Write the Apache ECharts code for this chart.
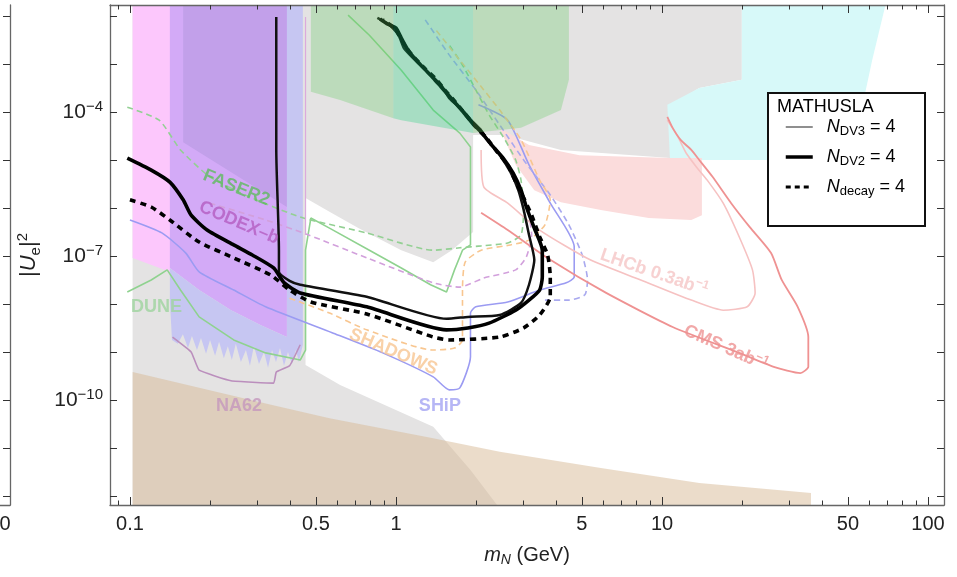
<!DOCTYPE html>
<html><head><meta charset="utf-8">
<script src="https://cdn.jsdelivr.net/npm/echarts@6/dist/echarts.min.js"></script>
<style>html,body{margin:0;padding:0;background:#fff}#c{width:957px;height:577px}</style>
</head><body><div id="c"></div>
<script>
// All points are [log10(m_N / GeV), log10 |U_e|^2].
const xMajorTicks = [0.1, 0.5, 1, 5, 10, 50, 100];
const xMinorTicks = [0.09, 0.2, 0.3, 0.4, 0.6, 0.7, 0.8, 0.9, 2, 3, 4, 6, 7, 8, 9, 20, 30, 40, 60, 70, 80, 90];
const yTickExponents = [-12, -11, -10, -9, -8, -7, -6, -5, -4, -3, -2];
const yLabelExponents = [-10, -7, -4];

// shaded (excluded / projected) regions
const grayRegion = [[-0.99,-1.77],[1.30,-1.77],[1.30,-3.33],[1.14,-3.50],[1.04,-3.85],[1.03,-4.96],[0.62,-4.79],[0.41,-4.48],[0.29,-4.48],[0.29,-6.50],[0.21,-6.88],[0.14,-7.13],[0.02,-6.88],[-0.14,-6.42],[-0.25,-6.08],[-0.34,-5.79],[-0.34,-9.27],[-0.21,-9.69],[0.14,-10.56],[0.28,-11.46],[0.38,-12.19],[-0.99,-12.19]];
const tanRegion = [[-0.99,-9.42],[-0.47,-10.10],[-0.25,-10.38],[0.13,-10.79],[0.39,-11.08],[0.77,-11.42],[1.14,-11.73],[1.56,-11.94],[1.56,-12.19],[-0.99,-12.19]];
const magentaRegion = [[-0.99,-1.77],[-0.40,-1.77],[-0.40,-7.92],[-0.85,-7.33],[-0.99,-7.04]];
const purpleRegion = [[-0.85,-1.77],[-0.41,-1.77],[-0.41,-8.69],[-0.51,-8.44],[-0.62,-8.13],[-0.74,-7.71],[-0.85,-7.25]];
const darkPurpleRegion = [[-0.80,-1.77],[-0.41,-1.77],[-0.41,-5.98],[-0.80,-4.63]];
const lavenderRegion = [[-0.41,-1.77],[-0.35,-1.77],[-0.35,-8.85],[-0.365,-9.21],[-0.376,-8.96],[-0.391,-9.25],[-0.406,-9.00],[-0.421,-9.29],[-0.436,-8.92],[-0.451,-9.21],[-0.466,-8.96],[-0.481,-9.33],[-0.496,-9.00],[-0.515,-9.25],[-0.534,-8.88],[-0.549,-9.29],[-0.564,-8.96],[-0.583,-9.21],[-0.602,-8.83],[-0.617,-9.17],[-0.632,-8.88],[-0.647,-9.13],[-0.665,-8.79],[-0.68,-9.08],[-0.699,-8.75],[-0.714,-9.04],[-0.733,-8.71],[-0.748,-8.96],[-0.767,-8.67],[-0.782,-8.92],[-0.801,-8.63],[-0.82,-8.83],[-0.842,-8.75],[-0.85,-7.92],[-0.85,-7.25],[-0.74,-7.71],[-0.62,-8.13],[-0.51,-8.44],[-0.41,-8.69]];
const greenLeftRegion = [[-0.32,-1.77],[-0.01,-1.77],[-0.01,-4.13],[-0.21,-3.75],[-0.32,-3.58]];
const mintRegion = [[-0.01,-1.77],[0.29,-1.77],[0.29,-4.44],[0.02,-4.17],[-0.01,-4.13]];
const greenRightRegion = [[0.29,-1.77],[0.65,-1.77],[0.65,-3.33],[0.62,-3.96],[0.47,-4.33],[0.29,-4.44]];
const cyanRegion = [[1.30,-1.77],[1.84,-1.77],[1.79,-2.92],[1.75,-3.96],[1.74,-5.00],[1.03,-5.00],[1.02,-3.85],[1.14,-3.50],[1.30,-3.33]];
const pinkRegion = [[0.39,-4.33],[0.50,-4.69],[0.69,-4.90],[1.03,-4.96],[1.15,-4.96],[1.15,-6.15],[1.11,-6.25],[0.95,-6.21],[0.77,-6.04],[0.62,-5.88],[0.52,-5.63],[0.45,-5.10]];

// sensitivity contours of other experiments
const duneLine = [[-1.01,-7.75],[-0.92,-7.50],[-0.86,-7.29],[-0.81,-7.71],[-0.74,-8.27],[-0.61,-8.75],[-0.49,-9.02],[-0.36,-9.17],[-0.34,-8.96],[-0.34,-6.88],[-0.32,-6.21],[-0.25,-6.42],[-0.10,-6.88],[0.02,-7.25],[0.13,-7.60],[0.19,-7.75],[0.22,-7.29],[0.25,-6.88],[0.28,-6.77],[0.28,-4.73],[0.24,-4.44],[0.14,-3.96],[0.02,-3.13],[-0.10,-2.40],[-0.18,-1.98]];
const faser2Line = [[-1.01,-3.90],[-0.89,-4.17],[-0.81,-4.79],[-0.70,-5.35],[-0.55,-5.77],[-0.36,-6.19],[-0.11,-6.52],[0.14,-6.88],[0.24,-6.83],[0.32,-6.79],[0.42,-6.73],[0.47,-6.56],[0.48,-6.04],[0.47,-5.42],[0.45,-5.00],[0.41,-4.58],[0.35,-4.06],[0.30,-3.54],[0.25,-3.02],[0.20,-2.60]];
const codexbLine = [[-0.70,-5.90],[-0.49,-6.25],[-0.33,-6.56],[-0.11,-7.04],[0.14,-7.56],[0.24,-7.65],[0.33,-7.46],[0.45,-7.29],[0.49,-7.02],[0.51,-6.56],[0.50,-6.15]];
const codexbEdge = [[-0.34,-2.02],[-0.34,-6.56]];
const shipLine = [[-1.00,-6.25],[-0.88,-6.52],[-0.79,-6.94],[-0.74,-7.33],[-0.61,-7.71],[-0.49,-8.06],[-0.24,-8.60],[-0.05,-9.02],[0.14,-9.52],[0.20,-9.79],[0.24,-9.75],[0.28,-9.10],[0.28,-8.19],[0.30,-8.06],[0.42,-7.96],[0.54,-7.71],[0.64,-7.56],[0.67,-7.44],[0.67,-6.81],[0.58,-5.90],[0.50,-5.10],[0.42,-4.17],[0.31,-3.85]];
const shipDashedLine = [[0.11,-2.08],[0.20,-2.81],[0.30,-3.54],[0.39,-4.27],[0.48,-5.00],[0.58,-5.73],[0.65,-6.35],[0.70,-6.98],[0.72,-7.50],[0.71,-7.81],[0.65,-7.92],[0.56,-7.92]];
const shadowsLine = [[-0.40,-7.88],[-0.25,-8.19],[-0.11,-8.54],[0.14,-8.96],[0.22,-8.92],[0.25,-8.75],[0.25,-7.71],[0.26,-7.13],[0.32,-6.88],[0.43,-6.77],[0.50,-6.67],[0.56,-6.35],[0.58,-5.83],[0.54,-5.42],[0.47,-4.58],[0.39,-3.96],[0.33,-3.54],[0.24,-2.92],[0.15,-2.29]];
const lhcbLine = [[0.32,-4.79],[0.33,-5.56],[0.42,-5.90],[0.54,-6.46],[0.73,-7.08],[0.92,-7.50],[1.11,-7.92],[1.23,-8.13],[1.32,-8.06],[1.35,-7.77],[1.34,-7.29],[1.29,-6.60],[1.23,-5.90],[1.17,-5.42],[1.13,-5.15],[1.09,-4.85],[1.06,-4.52],[1.02,-4.17]];
const cmsLine = [[0.32,-6.10],[0.42,-6.46],[0.58,-7.08],[0.79,-7.77],[1.04,-8.48],[1.29,-9.02],[1.42,-9.31],[1.52,-9.44],[1.55,-9.31],[1.55,-8.69],[1.51,-8.06],[1.45,-7.50],[1.41,-6.94],[1.33,-6.40],[1.26,-5.90],[1.19,-5.35],[1.14,-5.00],[1.11,-4.79],[1.07,-4.58],[1.04,-4.33],[1.02,-4.10]];
const na62Line = [[-0.84,-8.69],[-0.77,-9.00],[-0.74,-9.38],[-0.62,-9.60],[-0.46,-9.65],[-0.45,-9.42],[-0.40,-9.29],[-0.36,-8.85]];

// MATHUSLA curves
const mathuslaDV3 = [[-0.45,-2.02],[-0.45,-4.79],[-0.44,-6.88],[-0.44,-7.33],[-0.40,-7.52],[-0.36,-7.60],[-0.11,-7.85],[0.19,-8.31],[0.27,-8.27],[0.39,-8.23],[0.47,-7.98],[0.50,-7.60],[0.52,-7.08],[0.50,-6.56],[0.48,-6.04],[0.46,-5.63],[0.43,-5.25],[0.39,-4.90],[0.35,-4.63],[0.32,-4.38],[0.29,-4.21],[0.25,-3.96],[0.20,-3.71],[0.17,-3.44],[0.13,-3.23],[0.09,-3.02],[0.03,-2.67],[0.01,-2.40],[-0.02,-2.21],[-0.04,-2.13],[-0.07,-2.04]];
const mathuslaDV2 = [[-1.01,-4.96],[-0.92,-5.21],[-0.85,-5.46],[-0.80,-5.83],[-0.77,-6.15],[-0.71,-6.46],[-0.61,-6.77],[-0.54,-6.98],[-0.46,-7.25],[-0.42,-7.56],[-0.36,-7.77],[-0.11,-8.06],[0.19,-8.54],[0.27,-8.50],[0.35,-8.40],[0.45,-8.13],[0.50,-7.92],[0.54,-7.71],[0.55,-7.44],[0.55,-6.88],[0.52,-6.42],[0.49,-5.98],[0.47,-5.63],[0.44,-5.27],[0.40,-4.94],[0.36,-4.69],[0.32,-4.42],[0.29,-4.25],[0.25,-3.98],[0.21,-3.73],[0.17,-3.48],[0.14,-3.29],[0.10,-3.06],[0.05,-2.75],[0.02,-2.46],[0.00,-2.25],[-0.03,-2.17],[-0.06,-2.06]];
const mathuslaDecay = [[-1.00,-5.83],[-0.92,-5.98],[-0.85,-6.25],[-0.74,-6.71],[-0.61,-7.04],[-0.47,-7.40],[-0.40,-7.71],[-0.32,-7.96],[-0.11,-8.21],[0.14,-8.69],[0.20,-8.75],[0.39,-8.69],[0.48,-8.50],[0.54,-8.23],[0.58,-7.85],[0.58,-7.44],[0.57,-6.98],[0.54,-6.60],[0.51,-6.15],[0.48,-5.79],[0.45,-5.46],[0.42,-5.10],[0.38,-4.83],[0.34,-4.54],[0.30,-4.31],[0.26,-4.04],[0.22,-3.77],[0.18,-3.52],[0.15,-3.31],[0.11,-3.10],[0.06,-2.81],[0.02,-2.50],[0.00,-2.29],[-0.02,-2.19],[-0.05,-2.08]];

// experiment labels: text and anchor (centre) in data units
const labelTexts = ['FASER2', 'CODEX–b', 'DUNE', 'NA62', 'SHADOWS', 'SHiP', '{t|LHCb 0.3ab}{s|−1}', '{t|CMS 3ab}{s|−1}'];
const labelAnchors = [[-0.60,-5.58],[-0.59,-6.31],[-0.90,-8.06],[-0.59,-10.13],[-0.01,-9.00],[0.165,-10.13],[0.97,-7.35],[1.24,-8.92]];
const labelColors = ['#5fba5f', '#b45cc0', '#9dd39d', '#c497bd', '#f7c592', '#a4a4f3', '#f5c6c6', '#ee9292'];
const labelAngles = [-22, -23, 0, 0, -23, 0, -19, -24];

const legendNames = ['DV3', 'DV2', 'decay'];

const FONT = '"Liberation Sans", Arial, Helvetica, sans-serif';
const XMIN = -1.075, XMAX = 2.06, YMIN = -12.19, YMAX = -1.77;
const lg = a => a.map(v => Math.log10(v));

function polySeries(data, fill, z) {
  return {
    type: 'custom', coordinateSystem: 'cartesian2d', xAxisIndex: 0, yAxisIndex: 0,
    data: data, z: z, silent: true, animation: false, encode: { x: 0, y: 1 },
    renderItem: function (params, api) {
      if (params.dataIndex !== 0) return null;
      return { type: 'polygon', shape: { points: data.map(p => api.coord(p)) }, style: { fill: fill, stroke: null } };
    }
  };
}
function lineSeries(name, data, color, width, type, z, smooth) {
  return {
    type: 'line', name: name, data: data, xAxisIndex: 0, yAxisIndex: 0,
    showSymbol: false, symbol: 'none', smooth: smooth || 0, z: z, silent: true, animation: false,
    lineStyle: { color: color, width: width, type: type || 'solid' }, itemStyle: { color: color }
  };
}

const series = [
  polySeries(grayRegion, '#e4e3e3', 1),
  polySeries(tanRegion, 'rgba(215,185,150,0.5)', 2),
  polySeries(magentaRegion, '#fcc7fc', 3),
  polySeries(purpleRegion, '#d3aaf7', 3),
  polySeries(darkPurpleRegion, '#c2a0ea', 3),
  polySeries(lavenderRegion, '#c6c6f2', 3),
  polySeries(cyanRegion, '#d7f9f9', 3),
  polySeries(pinkRegion, '#fbdcdc', 3),
  lineSeries('DUNE', duneLine, '#8fd28f', 1.6, 'solid', 5, 0),
  lineSeries('FASER2', faser2Line, '#93d093', 1.6, [6, 4], 5, 0.2),
  lineSeries('CODEX-b', codexbLine, '#d2a0dc', 1.6, [6, 4], 5, 0.2),
  lineSeries('CODEX-b edge', codexbEdge, '#dcaadc', 1.2, 'solid', 5, 0),
  lineSeries('SHiP', shipLine, '#9b9bf2', 1.6, 'solid', 5, 0.2),
  lineSeries('SHiP dashed', shipDashedLine, '#a9a9ef', 1.6, [6, 4], 5, 0.2),
  lineSeries('SHADOWS', shadowsLine, '#f8c690', 1.6, [6, 4], 5, 0.2),
  lineSeries('LHCb', lhcbLine, '#f6c2c2', 1.6, 'solid', 5, 0.2),
  lineSeries('CMS', cmsLine, '#ef9292', 1.8, 'solid', 5, 0.2),
  lineSeries('NA62', na62Line, '#bb8fbd', 1.6, 'solid', 5, 0.1),
  lineSeries('DV3', mathuslaDV3, '#111', 2.5, 'solid', 6, 0.2),
  lineSeries('DV2', mathuslaDV2, '#000', 3.6, 'solid', 6, 0.2),
  lineSeries('decay', mathuslaDecay, '#000', 3.6, [6, 5], 6, 0.2),
  polySeries(greenLeftRegion, 'rgba(95,201,95,0.3)', 7),
  polySeries(mintRegion, 'rgba(28,208,121,0.3)', 7),
  polySeries(greenRightRegion, 'rgba(95,201,95,0.3)', 7),
  {
    type: 'scatter', xAxisIndex: 0, yAxisIndex: 0, z: 9, silent: true, animation: false,
    symbolSize: 1, itemStyle: { color: 'rgba(0,0,0,0)' },
    data: labelAnchors.map((p, i) => ({
      value: p,
      label: {
        show: true, position: 'inside', formatter: labelTexts[i], rotate: labelAngles[i],
        color: labelColors[i], fontFamily: FONT, fontWeight: 'bold', fontSize: 18,
        rich: {
          t: { color: labelColors[i], fontFamily: FONT, fontWeight: 'bold', fontSize: 18, lineHeight: 22 },
          s: { color: labelColors[i], fontFamily: FONT, fontWeight: 'bold', fontSize: 12, verticalAlign: 'top', lineHeight: 22 }
        }
      }
    }))
  }
];

const axisLineStyle = { color: '#666', width: 1.3 };
const tickStyle = { color: '#333', width: 1 };

const option = {
  animation: false,
  backgroundColor: '#fff',
  grid: [
    { left: 110, right: 13, top: 5, bottom: 72, outerBoundsMode: 'none', containLabel: false },
    { left: -824, width: 834, top: 5, bottom: 72, outerBoundsMode: 'none', containLabel: false }
  ],
  xAxis: [
    { type: 'value', gridIndex: 0, position: 'bottom', min: XMIN, max: XMAX, z: 20,
      axisLine: { show: true, onZero: false, lineStyle: axisLineStyle }, splitLine: { show: false },
      axisTick: { show: true, inside: true, length: 8, lineStyle: tickStyle, customValues: lg(xMajorTicks) },
      axisLabel: { show: true, customValues: lg(xMajorTicks), margin: 9, fontSize: 20, fontFamily: FONT, color: '#222',
        formatter: v => String(parseFloat(Math.pow(10, v).toPrecision(4))) },
      name: '{i|m}{s|N}{t| (GeV)}', nameLocation: 'middle', nameGap: 38,
      nameTextStyle: { fontFamily: FONT, color: '#222', rich: {
        i: { fontStyle: 'italic', fontSize: 20, fontFamily: FONT, color: '#222', lineHeight: 24 },
        s: { fontStyle: 'italic', fontSize: 14, fontFamily: FONT, color: '#222', verticalAlign: 'bottom', lineHeight: 24 },
        t: { fontSize: 20, fontFamily: FONT, color: '#222', lineHeight: 24 } } } },
    { type: 'value', gridIndex: 0, position: 'bottom', min: XMIN, max: XMAX, z: 20,
      axisLine: { show: false, onZero: false }, splitLine: { show: false }, axisLabel: { show: false },
      axisTick: { show: true, inside: true, length: 4.5, lineStyle: tickStyle, customValues: lg(xMinorTicks) } },
    { type: 'value', gridIndex: 0, position: 'top', min: XMIN, max: XMAX, z: 20,
      axisLine: { show: true, onZero: false, lineStyle: axisLineStyle }, splitLine: { show: false }, axisLabel: { show: false },
      axisTick: { show: true, inside: true, length: 8, lineStyle: tickStyle, customValues: lg(xMajorTicks) } },
    { type: 'value', gridIndex: 0, position: 'top', min: XMIN, max: XMAX, z: 20,
      axisLine: { show: false, onZero: false }, splitLine: { show: false }, axisLabel: { show: false },
      axisTick: { show: true, inside: true, length: 4.5, lineStyle: tickStyle, customValues: lg(xMinorTicks) } },
    { type: 'value', gridIndex: 1, position: 'bottom', min: XMIN, max: XMAX, z: 20,
      axisLine: { show: true, onZero: false, lineStyle: axisLineStyle }, splitLine: { show: false },
      axisTick: { show: true, inside: true, length: 8, lineStyle: tickStyle, customValues: lg(xMajorTicks) },
      axisLabel: { show: true, customValues: [2], margin: 9, fontSize: 20, fontFamily: FONT, color: '#222',
        formatter: v => String(parseFloat(Math.pow(10, v).toPrecision(4))) } }
  ],
  yAxis: [
    { type: 'value', gridIndex: 0, position: 'left', min: YMIN, max: YMAX, z: 20,
      axisLine: { show: true, onZero: false, lineStyle: axisLineStyle }, splitLine: { show: false },
      axisTick: { show: true, inside: true, length: 7, lineStyle: tickStyle, customValues: yTickExponents },
      axisLabel: { show: true, customValues: yLabelExponents, margin: 7, fontFamily: FONT, color: '#222',
        formatter: v => '{b|10}{s|−' + Math.abs(Math.round(v)) + '}',
        rich: { b: { fontSize: 21, fontFamily: FONT, color: '#222', lineHeight: 26 },
                s: { fontSize: 15, fontFamily: FONT, color: '#222', verticalAlign: 'top', lineHeight: 26 } } },
      name: '{t||}{i|U}{s|e}{t||}{p|2}', nameLocation: 'middle', nameGap: 55, nameRotate: 90,
      nameTextStyle: { fontFamily: FONT, color: '#222', rich: {
        t: { fontSize: 22, fontFamily: FONT, color: '#222', lineHeight: 28 },
        i: { fontSize: 22, fontStyle: 'italic', fontFamily: FONT, color: '#222', lineHeight: 28 },
        s: { fontSize: 15, fontFamily: FONT, color: '#222', verticalAlign: 'bottom', lineHeight: 28 },
        p: { fontSize: 15, fontFamily: FONT, color: '#222', verticalAlign: 'top', lineHeight: 28 } } } },
    { type: 'value', gridIndex: 0, position: 'right', min: YMIN, max: YMAX, z: 20,
      axisLine: { show: true, onZero: false, lineStyle: axisLineStyle }, splitLine: { show: false }, axisLabel: { show: false },
      axisTick: { show: true, inside: true, length: 7, lineStyle: tickStyle, customValues: yTickExponents } },
    { type: 'value', gridIndex: 1, position: 'right', min: YMIN, max: YMAX, z: 20,
      axisLine: { show: true, onZero: false, lineStyle: axisLineStyle }, splitLine: { show: false }, axisLabel: { show: false },
      axisTick: { show: true, inside: true, length: 7, lineStyle: tickStyle, customValues: yTickExponents } }
  ],
  legend: {
    show: true, orient: 'vertical', left: 784, top: 118, padding: 0, itemGap: 10,
    itemWidth: 27, itemHeight: 14, selectedMode: false, z: 100,
    itemStyle: { color: 'rgba(0,0,0,0)', borderColor: 'rgba(0,0,0,0)', borderWidth: 0 },
    data: [
      { name: 'DV3', lineStyle: { width: 1.2, color: '#444', type: 'solid' } },
      { name: 'DV2', lineStyle: { width: 3.5, color: '#000', type: 'solid' } },
      { name: 'decay', lineStyle: { width: 3, color: '#000', type: [5, 4] } }
    ],
    formatter: n => '{g|}{n|N}{s|' + n + '}{t| = 4}',
    textStyle: { fontFamily: FONT, color: '#000', fontSize: 18, rich: {
      g: { width: 9, lineHeight: 22 },
      n: { fontStyle: 'italic', fontSize: 18, fontFamily: FONT, color: '#000', lineHeight: 22 },
      s: { fontSize: 13, fontFamily: FONT, color: '#000', verticalAlign: 'bottom', lineHeight: 22 },
      t: { fontSize: 18, fontFamily: FONT, color: '#000', lineHeight: 22 } } }
  },
  graphic: [
    { type: 'rect', z: 90, shape: { x: 768, y: 93, width: 157, height: 133 },
      style: { fill: '#fff', stroke: '#111', lineWidth: 2 } },
    { type: 'text', z: 100, left: 777, top: 98,
      style: { text: 'MATHUSLA', fontFamily: FONT, fontSize: 18, fill: '#000' } }
  ],
  series: series
};

const chart = echarts.init(document.getElementById('c'), null, { renderer: 'canvas' });
chart.setOption(option);
</script>
</body></html>
